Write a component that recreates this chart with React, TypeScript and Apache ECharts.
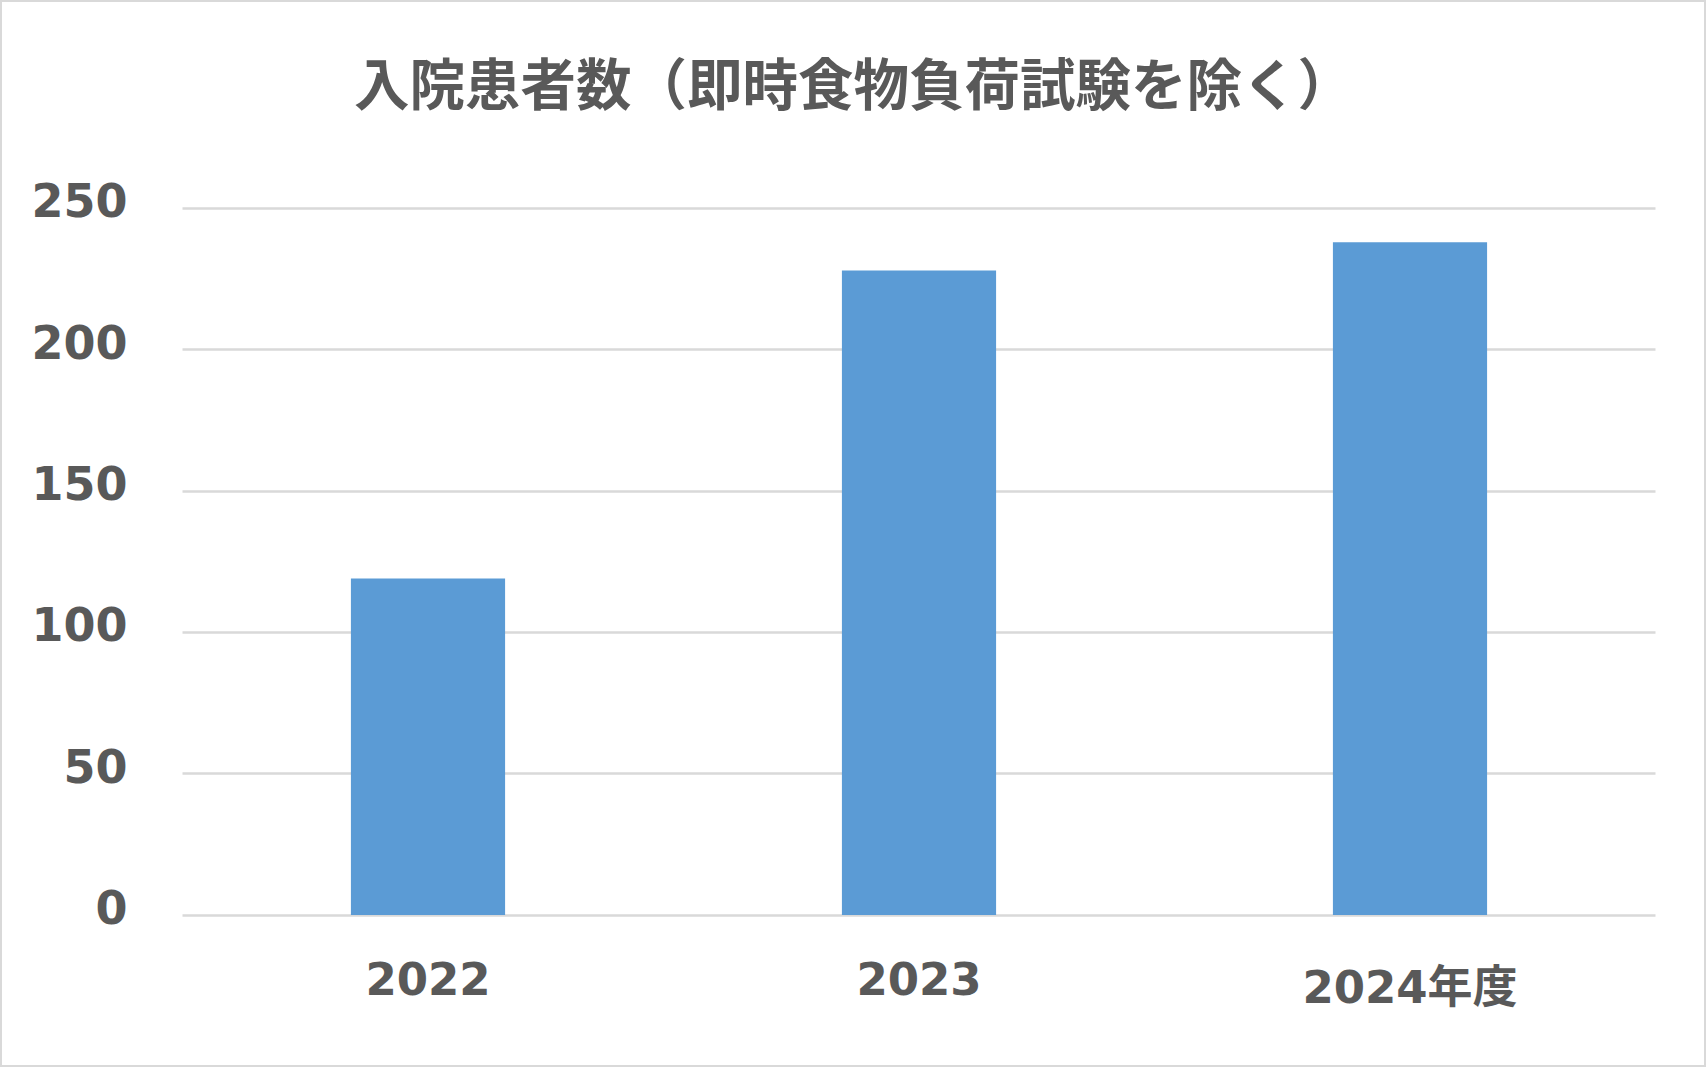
import React, { useEffect, useRef } from 'react'
import * as echarts from 'echarts'

const titleText = '入院患者数（即時食物負荷試験を除く）'
const categories = ['2022', '2023', '2024年度']
const patients = [119, 228, 238]
const yTicks = [0, 50, 100, 150, 200, 250]

const TEXT = '#595959'
const GRID = '#d9d9d9'
const BAR = '#5B9BD5'

const App = () => {
    const chart: any = useRef()

    useEffect(() => {
        const myChart = echarts.init(chart.current, null, { renderer: 'svg' })
        myChart.setOption({
            animation: false,
            title: {
                text: titleText,
                left: 'center',
                top: 53,
                padding: 0,
                textStyle: {
                    fontFamily: "'Noto Sans CJK JP'",
                    fontWeight: 'bold',
                    fontSize: 55.5,
                    color: TEXT,
                },
            },
            graphic: [
                {
                    type: 'rect',
                    silent: true,
                    shape: { x: 1, y: 1, width: 1704, height: 1065 },
                    style: { fill: 'none', stroke: GRID, lineWidth: 2 },
                },
            ],
            grid: {
                left: 182.5,
                right: 51.5,
                top: 208.3,
                bottom: 153,
                containLabel: false,
            },
            xAxis: {
                type: 'category',
                data: categories.map((c) =>
                    c.length > 4 ? { value: c, textStyle: { lineHeight: 61 } } : c
                ),
                axisLine: { show: false },
                axisTick: { show: false },
                axisLabel: {
                    interval: 0,
                    margin: 42,
                    fontFamily: "'DejaVu Sans', 'Noto Sans CJK JP'",
                    fontWeight: 'bold',
                    fontSize: 45,
                    lineHeight: 45,
                    color: TEXT,
                },
            },
            yAxis: {
                type: 'value',
                min: yTicks[0],
                max: yTicks[yTicks.length - 1],
                interval: 50,
                axisLine: { show: false },
                axisTick: { show: false },
                axisLabel: {
                    margin: 55,
                    fontFamily: "'DejaVu Sans'",
                    fontWeight: 'bold',
                    fontSize: 46,
                    color: TEXT,
                    verticalAlign: 'bottom',
                    lineHeight: 14,
                },
                splitLine: {
                    show: true,
                    lineStyle: { color: GRID, width: 2.5 },
                },
            },
            series: [
                {
                    type: 'bar',
                    data: patients,
                    barWidth: '31.4%',
                    itemStyle: { color: BAR },
                },
            ],
        })
        return () => {
            myChart.dispose()
        }
    }, [])

    return (
        <div
            ref={chart}
            style={{ position: 'absolute', left: 0, top: 0, width: 1707, height: 1068, background: '#fff' }}
        />
    )
}

export default App
